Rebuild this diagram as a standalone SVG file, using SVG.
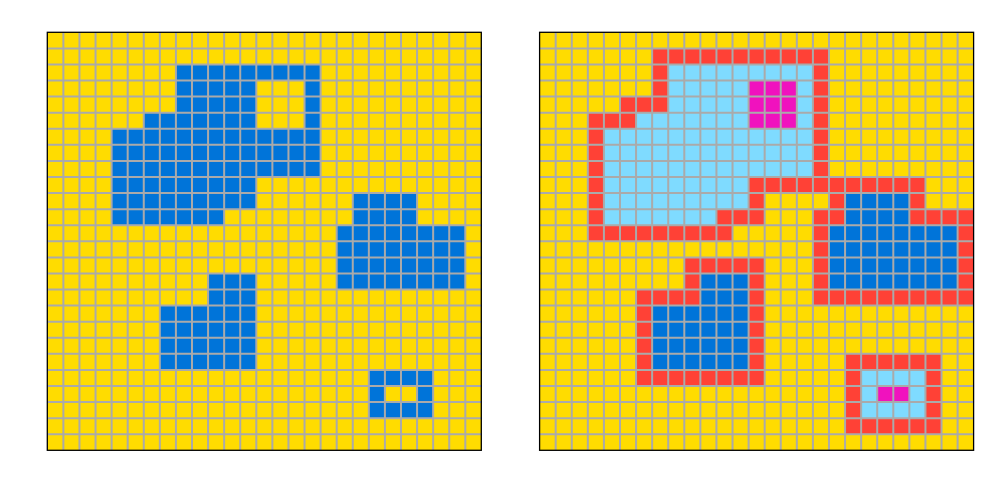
<svg xmlns="http://www.w3.org/2000/svg" xmlns:xlink="http://www.w3.org/1999/xlink" width="1000" height="500" viewBox="0 0 1000 500">
<style>
.y{fill:#FFDC00}
.b{fill:#0074D9}
.r{fill:#FF4136}
.l{fill:#7FDBFF}
.m{fill:#F012BE}
.grid{fill:none;stroke:#AAAAAA;stroke-width:2;vector-effect:non-scaling-stroke}
.frame{fill:none;stroke:#000000;stroke-width:1.3}
</style>
<defs>
<path id="gridlines" class="grid" d="M1 0V26M2 0V26M3 0V26M4 0V26M5 0V26M6 0V26M7 0V26M8 0V26M9 0V26M10 0V26M11 0V26M12 0V26M13 0V26M14 0V26M15 0V26M16 0V26M17 0V26M18 0V26M19 0V26M20 0V26M21 0V26M22 0V26M23 0V26M24 0V26M25 0V26M26 0V26M0 1H27M0 2H27M0 3H27M0 4H27M0 5H27M0 6H27M0 7H27M0 8H27M0 9H27M0 10H27M0 11H27M0 12H27M0 13H27M0 14H27M0 15H27M0 16H27M0 17H27M0 18H27M0 19H27M0 20H27M0 21H27M0 22H27M0 23H27M0 24H27M0 25H27"/>
</defs>
<rect x="0" y="0" width="1000" height="500" fill="#ffffff"/>
<g id="input-grid">
<g transform="translate(47.3 32.3) scale(16.077)">
<rect class="y" x="0" y="0" width="27" height="26"/>
<rect class="b" x="8" y="2" width="9" height="1"/>
<rect class="b" x="8" y="3" width="5" height="2"/>
<rect class="b" x="16" y="3" width="1" height="3"/>
<rect class="b" x="6" y="5" width="7" height="1"/>
<rect class="b" x="4" y="6" width="13" height="3"/>
<rect class="b" x="4" y="9" width="9" height="2"/>
<rect class="b" x="4" y="11" width="7" height="1"/>
<rect class="b" x="19" y="10" width="4" height="2"/>
<rect class="b" x="18" y="12" width="8" height="4"/>
<rect class="b" x="10" y="15" width="3" height="2"/>
<rect class="b" x="7" y="17" width="6" height="4"/>
<rect class="b" x="20" y="21" width="4" height="1"/>
<rect class="b" x="20" y="22" width="1" height="1"/>
<rect class="b" x="23" y="22" width="1" height="1"/>
<rect class="b" x="20" y="23" width="4" height="1"/>
<use xlink:href="#gridlines" href="#gridlines"/>
</g>
<rect class="frame" x="47.3" y="32.3" width="434" height="418"/>
</g>
<g id="output-grid">
<g transform="translate(539.6 32.3) scale(16.077)">
<rect class="y" x="0" y="0" width="27" height="26"/>
<rect class="l" x="8" y="2" width="9" height="1"/>
<rect class="l" x="8" y="3" width="5" height="2"/>
<rect class="l" x="6" y="5" width="7" height="1"/>
<rect class="l" x="16" y="3" width="1" height="3"/>
<rect class="l" x="4" y="6" width="13" height="3"/>
<rect class="l" x="4" y="9" width="9" height="2"/>
<rect class="l" x="4" y="11" width="7" height="1"/>
<rect class="l" x="20" y="21" width="4" height="3"/>
<rect class="m" x="13" y="3" width="3" height="3"/>
<rect class="m" x="21" y="22" width="2" height="1"/>
<rect class="b" x="19" y="10" width="4" height="2"/>
<rect class="b" x="18" y="12" width="8" height="4"/>
<rect class="b" x="10" y="15" width="3" height="2"/>
<rect class="b" x="7" y="17" width="6" height="4"/>
<rect class="r" x="7" y="1" width="11" height="1"/>
<rect class="r" x="7" y="2" width="1" height="3"/>
<rect class="r" x="5" y="4" width="2" height="1"/>
<rect class="r" x="3" y="5" width="3" height="1"/>
<rect class="r" x="17" y="2" width="1" height="7"/>
<rect class="r" x="3" y="6" width="1" height="6"/>
<rect class="r" x="3" y="12" width="9" height="1"/>
<rect class="r" x="13" y="9" width="11" height="1"/>
<rect class="r" x="13" y="10" width="1" height="2"/>
<rect class="r" x="11" y="11" width="2" height="1"/>
<rect class="r" x="18" y="10" width="1" height="1"/>
<rect class="r" x="23" y="10" width="1" height="1"/>
<rect class="r" x="17" y="11" width="2" height="1"/>
<rect class="r" x="23" y="11" width="4" height="1"/>
<rect class="r" x="17" y="12" width="1" height="4"/>
<rect class="r" x="26" y="12" width="1" height="4"/>
<rect class="r" x="17" y="16" width="10" height="1"/>
<rect class="r" x="9" y="14" width="5" height="1"/>
<rect class="r" x="9" y="15" width="1" height="1"/>
<rect class="r" x="13" y="14" width="1" height="8"/>
<rect class="r" x="6" y="16" width="4" height="1"/>
<rect class="r" x="6" y="17" width="1" height="4"/>
<rect class="r" x="6" y="21" width="8" height="1"/>
<rect class="r" x="19" y="20" width="6" height="1"/>
<rect class="r" x="19" y="21" width="1" height="3"/>
<rect class="r" x="24" y="21" width="1" height="3"/>
<rect class="r" x="19" y="24" width="6" height="1"/>
<use xlink:href="#gridlines" href="#gridlines"/>
</g>
<rect class="frame" x="539.6" y="32.3" width="434" height="418"/>
</g>
</svg>
